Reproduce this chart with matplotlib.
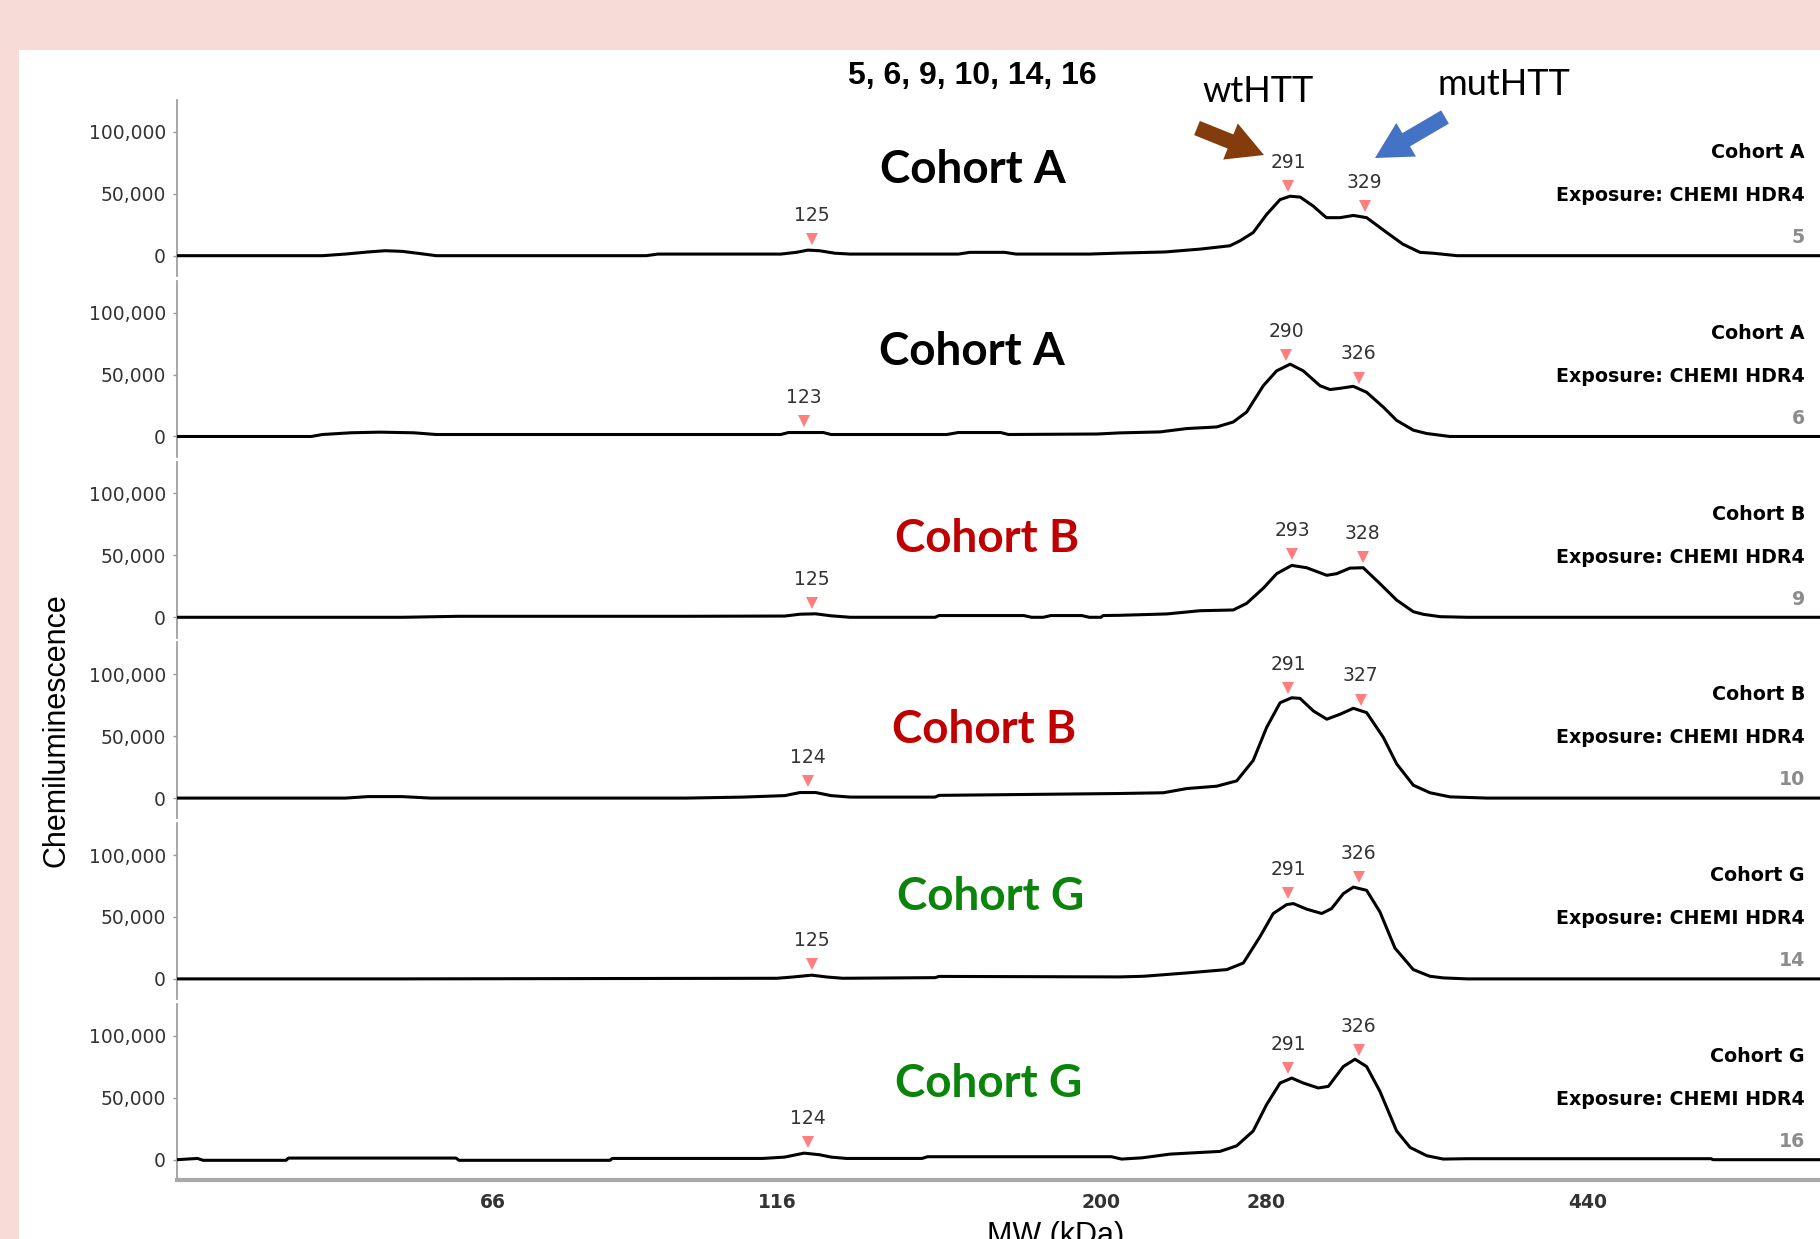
import numpy as np
import matplotlib
matplotlib.use("Agg")
import matplotlib.pyplot as plt
from matplotlib.patches import Rectangle, FancyArrowPatch
from matplotlib.ticker import FuncFormatter, NullLocator
from matplotlib.transforms import offset_copy

# ---------------- data ----------------
# MW calibration of the capillary axis (kDa -> relative position)
cal_mw = [10.4, 66, 116, 200, 280, 440, 555]
cal_pos = [177, 493, 777, 1101, 1266, 1588, 1820]

xtick_mw = [66, 116, 200, 280, 440]
ytick_vals = [0, 50000, 100000]

sample_ids = ["5", "6", "9", "10", "14", "16"]
cohorts = ["Cohort A", "Cohort A", "Cohort B", "Cohort B", "Cohort G", "Cohort G"]
exposure_label = "Exposure: CHEMI HDR4"
title_text = "5, 6, 9, 10, 14, 16"

peak_labels = [[125, 291, 329], [123, 290, 326], [125, 293, 328],
               [124, 291, 327], [125, 291, 326], [124, 291, 326]]

tr5_mw = [10.4, 36, 40, 44, 47, 50, 53, 56, 93, 95, 117, 121, 124, 127, 131, 135, 163, 166, 175, 178,
          197, 209, 231, 248, 262.5, 267.4, 273.8, 280.3, 287, 292, 297, 303.5, 310, 316.8, 323.4, 330,
          340, 348, 356.5, 363, 375, 555]
tr5_val = [0, 0, 1300, 3000, 4000, 3500, 1800, 0, 0, 1300, 1300, 2700, 4500, 4000, 2000, 1300, 1300, 2700, 2700, 1300,
           1300, 2100, 3000, 5300, 8000, 12000, 18700, 33300, 45300, 48000, 47300, 40000, 30700, 30700, 32500, 30700,
           18700, 9300, 2700, 2000, 0, 0]

tr6_mw = [10.4, 34, 36, 41, 46, 52, 56, 117, 119, 128, 130, 160, 163, 174, 176, 199, 209, 228.6, 241.6,
          256.1, 264.1, 270.6, 278.7, 285.3, 292, 298.5, 306.8, 311.8, 316.8, 323.4, 330, 338.3, 344.9,
          353.2, 359.9, 371.4, 555]
tr6_val = [0, 0, 1600, 3000, 3500, 3000, 1600, 1600, 3200, 3200, 1600, 1600, 3200, 3200, 1600, 2000, 2900, 3700, 6400,
           7700, 11700, 19700, 41000, 53000, 58400, 53000, 41000, 37900, 38900, 40500, 35700, 23700, 13000,
           5100, 2400, 0, 0]

tr9_mw = [10.4, 50, 60, 100, 118, 122, 126, 130, 135, 157, 158, 180, 182, 185, 187, 195, 197, 200, 201,
          209, 231.9, 248, 264.1, 270.6, 278.7, 285.3, 292.8, 300.2, 310.2, 315.1, 321.7, 328.3, 336.6,
          344.9, 353.2, 358.2, 366.5, 380, 555]
tr9_val = [0, 0, 800, 800, 1000, 2500, 2800, 1200, 0, 0, 1400, 1400, 0, 0, 1400, 1400, 0, 0, 1400,
           1600, 2700, 5300, 5900, 11200, 23500, 35200, 41900, 40000, 33900, 35200, 39700, 40000, 27200,
           13900, 4500, 2400, 500, 0, 0]

tr10_mw = [10.4, 40, 44, 50, 55, 100, 110, 118, 122, 126, 130, 135, 157, 158, 209, 230.2, 241.6, 256.1,
           265.8, 273.8, 280.3, 287, 292.8, 296.9, 303.5, 310.2, 316.8, 323.4, 330, 338.3, 344.9, 353.2,
           361.5, 371.4, 389.7, 555]
tr10_val = [0, 0, 1200, 1200, 0, 0, 800, 2000, 4500, 4500, 2000, 800, 800, 2200, 3700, 4300, 7700, 9600,
            13900, 30400, 57000, 77000, 81000, 80500, 70400, 63700, 67700, 72500, 69000, 49000, 27700, 10400,
            4300, 1000, 0, 0]

tr14_mw = [10.4, 50, 116, 120, 125, 129, 133, 157, 158, 209, 220.5, 241.6, 261, 269, 277.1, 283.6, 290.3,
           293.6, 300.2, 307.7, 312.6, 318.4, 323.4, 330, 336.6, 344.1, 353.2, 361.5, 368.1, 380, 555]
tr14_val = [0, 0, 500, 1500, 3000, 1500, 500, 1000, 2000, 1600, 2100, 4800, 7500, 12800, 34100, 52800, 60000,
            60800, 56300, 52800, 56800, 68800, 74100, 71500, 54100, 24800, 7500, 2100, 800, 0, 0]

tr16_mw = [10.4, 14, 15, 29.6, 30, 59.5, 60, 86.6, 87, 113.5, 118, 123, 127, 130, 134, 153.6, 155, 205, 210,
           219.9, 233.5, 257.7, 265.8, 273.8, 280.3, 287, 292.8, 298.5, 306, 311, 318.4, 324.2, 330, 336.6,
           344.9, 351.6, 359.9, 368.1, 380, 501, 502, 555]
tr16_val = [0, 1000, -500, -500, 1300, 1300, -500, -500, 1000, 1000, 2100, 5300, 4000, 2100, 1000, 1000, 2400, 2400, 500,
            1500, 4500, 6700, 11200, 23200, 44500, 61900, 65900, 61900, 57900, 59200, 75200, 81100, 75200, 55200,
            23200, 9900, 3200, 500, 800, 800, 0, 0]

traces_mw = [tr5_mw, tr6_mw, tr9_mw, tr10_mw, tr14_mw, tr16_mw]
traces_val = [tr5_val, tr6_val, tr9_val, tr10_val, tr14_val, tr16_val]

# ---------------- style / layout ----------------
W, H, DPI = 1820, 1239, 100
PINK = "#F7DBD7"
cohort_colors = {"Cohort A": "#000000", "Cohort B": "#C00000", "Cohort G": "#0B840B"}
MARK = "#FF7F7F"
SOFT = "DejaVu Sans"
ARIAL = "Liberation Sans"

fig = plt.figure(figsize=(W / DPI, H / DPI), dpi=DPI, facecolor=PINK)


def fx(px):
    return px / W


def fy(py):
    return 1 - py / H


fig.add_artist(Rectangle((fx(19), 0), 1 - fx(19), fy(50), transform=fig.transFigure,
                         facecolor="white", edgecolor="none", zorder=-5))

fwd = lambda x: np.interp(x, cal_mw, cal_pos)
inv = lambda y: np.interp(y, cal_pos, cal_mw)

panel_top0, panel_step, panel_h = 100, 180.8, 176
ax_left, ax_right = 177, 1820
ylo, yhi = -16400, 125700

big_label_x = [973, 972, 987, 984, 991, 989]
big_label_base = [183, 365, 552, 743, 910, 1097]

for i in range(6):
    top = panel_top0 + panel_step * i
    ax = fig.add_axes([fx(ax_left), fy(top + panel_h), fx(ax_right - ax_left), panel_h / H])
    ax.set_facecolor("none")
    ax.set_xscale("function", functions=(fwd, inv))
    ax.set_xlim(cal_mw[0], cal_mw[-1])
    ax.set_ylim(ylo, yhi)
    mw = np.array(traces_mw[i], dtype=float)
    val = np.array(traces_val[i], dtype=float)
    ax.plot(mw, val, color="black", lw=2.2, solid_joinstyle="round", zorder=3)

    # peak markers and labels
    mk_tr = offset_copy(ax.transData, fig=fig, y=8, units="points")
    for pk in peak_labels[i]:
        yv = np.interp(pk, mw, val)
        ax.plot([pk], [yv], marker="v", color=MARK, markersize=8.5, markeredgewidth=0,
                transform=mk_tr, zorder=4, clip_on=False)
        ax.annotate(str(pk), (pk, yv), xytext=(0, 25), textcoords="offset points",
                    ha="center", va="center", fontsize=13.5, family=SOFT, color="#333333")

    for s in ["top", "right", "bottom"]:
        ax.spines[s].set_visible(False)
    ax.spines["left"].set_color("#a0a0a0")
    ax.spines["left"].set_linewidth(1.3)
    ax.set_yticks(ytick_vals)
    ax.yaxis.set_major_formatter(FuncFormatter(lambda v, p: f"{v:,.0f}"))
    ax.tick_params(axis="y", direction="out", length=3, width=1, color="#999999",
                   labelcolor="#333333", labelsize=13.5, pad=5)
    for t in ax.get_yticklabels():
        t.set_family(SOFT)
    ax.xaxis.set_minor_locator(NullLocator())
    if i < 5:
        ax.set_xticks([])
    else:
        ax.spines["bottom"].set_visible(True)
        ax.spines["bottom"].set_color("#a8a8a8")
        ax.spines["bottom"].set_linewidth(3)
        ax.set_xticks(xtick_mw)
        ax.set_xticklabels([str(t) for t in xtick_mw], fontweight="bold", family=SOFT)
        ax.tick_params(axis="x", length=0, labelsize=13.5, labelcolor="#333333", pad=9)

    # big cohort labels
    fig.text(fx(big_label_x[i]), fy(big_label_base[i]), cohorts[i], ha="center", va="baseline",
             fontsize=33, fontweight="bold", family="Lato", color=cohort_colors[cohorts[i]])
    # right-side labels
    fig.text(fx(1805), fy(top + 58), cohorts[i], ha="right", va="baseline",
             fontsize=13.7, fontweight="bold", family=SOFT, color="black")
    fig.text(fx(1805), fy(top + 101), exposure_label, ha="right", va="baseline",
             fontsize=13.7, fontweight="bold", family=SOFT, color="black")
    fig.text(fx(1805), fy(top + 143), sample_ids[i], ha="right", va="baseline",
             fontsize=13.7, fontweight="bold", family=SOFT, color="#8c8c8c")

# axis titles
fig.text(fx(57), fy(730), "Chemiluminescence", rotation=90, ha="center", va="center",
         fontsize=22, family=ARIAL, color="black")
fig.text(fx(1056), fy(1244), "MW (kDa)", ha="center", va="baseline",
         fontsize=22, family=ARIAL, color="black")
fig.text(fx(972), fy(84), title_text, ha="center", va="baseline",
         fontsize=23, fontweight="bold", family=ARIAL, color="black")

# wtHTT / mutHTT annotations
fig.text(fx(1258), fy(102), "wtHTT", ha="center", va="baseline", fontsize=26, family="Lato", color="black")
fig.text(fx(1504), fy(95), "mutHTT", ha="center", va="baseline", fontsize=26, family="Lato", color="black")

arrow_style = "simple,head_width=2.8,head_length=2.6,tail_width=1.1"
for (x0, y0, x1, y1, col) in [(1197, 128, 1264, 155, "#843C0C"), (1445, 117, 1375, 158, "#4472C4")]:
    fig.add_artist(FancyArrowPatch((fx(x0), fy(y0)), (fx(x1), fy(y1)), transform=fig.transFigure,
                                   arrowstyle=arrow_style, mutation_scale=10, color=col,
                                   shrinkA=0, shrinkB=0, lw=0, zorder=6))

fig.savefig("out.png", dpi=DPI, facecolor=PINK)
